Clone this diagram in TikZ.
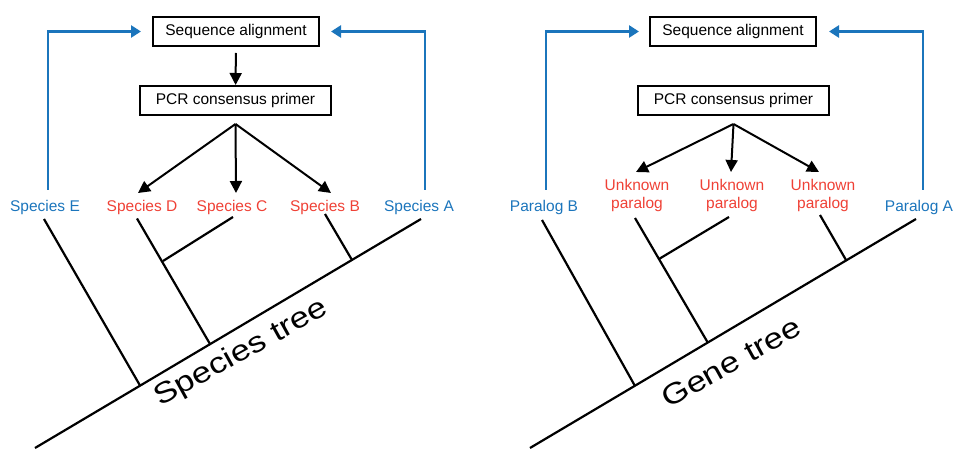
\documentclass[tikz,border=0pt]{standalone}
\usepackage{fontspec}
\setmainfont{Liberation Sans}
\usetikzlibrary{arrows.meta}
\definecolor{tblue}{RGB}{27,117,188}
\definecolor{tred}{RGB}{239,65,54}
\newcommand{\widetext}[1]{\scalebox{1.2}[1]{#1}}
\tikzset{
  box/.style={draw, line width=2pt, inner sep=0pt, minimum height=29pt, font=\fontsize{15.5}{18}\selectfont},
  leaf/.style={inner sep=7pt, anchor=north, align=center, font=\fontsize{15.5}{18.5}\selectfont},
  blk/.style={line width=2pt, -{Triangle[length=12pt,width=12pt]}},
  blu/.style={tblue, line width=2.5pt, -{Triangle[length=10pt,width=12pt]}},
  branch/.style={line width=2.2pt},
  treename/.style={font=\fontsize{29}{34}\selectfont, anchor=base, rotate=29, inner sep=0pt}
}
\begin{document}
\begin{tikzpicture}[x=1pt,y=-1pt]
\useasboundingbox (0,0) rectangle (954,449);

%left
\node[box, minimum width=166pt] (seqL) at (236,31.5) {Sequence alignment};
\node[box, minimum width=191pt] (pcrL) at (235.5,100.5) {PCR consensus primer};
\draw[blk, shorten <=6pt] (seqL) -- (pcrL);

\node[leaf, tblue] (spE) at (45,193) {Species E};
\node[leaf, tred] (spD) at (142,193) {Species D};
\node[leaf, tred] (spC) at (232,193) {Species C};
\node[leaf, tred] (spB) at (325,193) {Species B};
\node[leaf, tblue] (spA) at (419,193) {Species A};

\coordinate (fanL) at ([yshift=-8pt]pcrL.south);
\draw[blk] (fanL) -- ([xshift=-4pt]spD.north);
\draw[blk] (fanL) -- ([xshift=4pt]spC.north);
\draw[blk] (fanL) -- ([xshift=6pt]spB.north);

\draw[blu] ([xshift=3pt,yshift=3pt]spE.north) |- ([xshift=-11pt]seqL.west);
\draw[blu] ([xshift=6pt,yshift=3pt]spA.north) |- ([xshift=11pt]seqL.east);

%tree
\begin{scope}[branch]
\draw (35,448) -- (421,219);
\draw (44,219) -- (140,385.5);
\draw (137,218.5) -- (210,344);
\draw (233,217) -- (163,261);
\draw (325,214) -- (352,260);
\end{scope}
\node[treename] (stree) at (245,360) {\widetext{Species tree}};

%right
\node[box, minimum width=166pt] (seqR) at (733,31.5) {Sequence alignment};
\node[box, minimum width=191pt] (pcrR) at (733.5,100.5) {PCR consensus primer};

\node[leaf, tblue] (parB) at (544,193) {Paralog B};
\node[leaf, tred] (unk1) at (637,172) {Unknown\\paralog};
\node[leaf, tred] (unk2) at (732,172) {Unknown\\paralog};
\node[leaf, tred] (unk3) at (823,172) {Unknown\\paralog};
\node[leaf, tblue] (parA) at (919,193) {Paralog A};

\coordinate (fanR) at ([yshift=-8pt]pcrR.south);
\draw[blk] (fanR) -- ([xshift=-1pt]unk1.north);
\draw[blk] (fanR) -- ([xshift=-1pt]unk2.north);
\draw[blk] (fanR) -- ([xshift=-4pt]unk3.north);

\draw[blu] ([xshift=2pt,yshift=3pt]parB.north) |- ([xshift=-10pt]seqR.west);
\draw[blu] ([xshift=4pt,yshift=3pt]parA.north) |- ([xshift=12pt]seqR.east);

%tree
\begin{scope}[branch, xshift=495pt]
\draw (35,448) -- (421,219);
\draw (47,220) -- (140,386);
\draw (140,218) -- (213,343);
\draw (234,217) -- (164,259);
\draw (325,215) -- (351,260);
\end{scope}
\node[treename] (gtree) at (736,371) {\widetext{Gene tree}};
\end{tikzpicture}
\end{document}
